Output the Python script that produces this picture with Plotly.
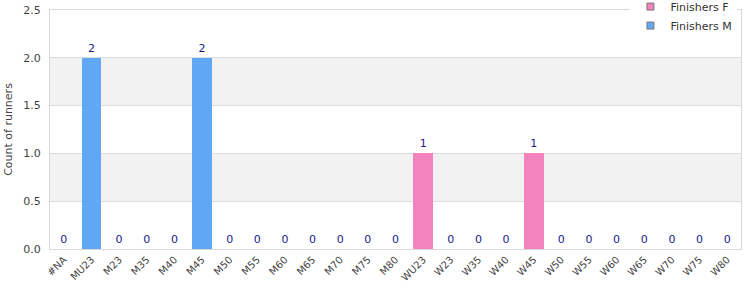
import plotly.graph_objects as go

categories = ["#NA", "MU23", "M23", "M35", "M40", "M45", "M50", "M55", "M60", "M65",
              "M70", "M75", "M80", "WU23", "W23", "W35", "W40", "W45", "W50", "W55",
              "W60", "W65", "W70", "W75", "W80"]
finishers_f = [0, 0, 0, 0, 0, 0, 0, 0, 0, 0, 0, 0, 0, 1, 0, 0, 0, 1, 0, 0, 0, 0, 0, 0, 0]
finishers_m = [0, 2, 0, 0, 0, 2, 0, 0, 0, 0, 0, 0, 0, 0, 0, 0, 0, 0, 0, 0, 0, 0, 0, 0, 0]
y_ticks = [0.0, 0.5, 1.0, 1.5, 2.0, 2.5]
series_names = ["Finishers F", "Finishers M"]
series_colors = ["#f283bd", "#60a8f5"]

totals = [f + m for f, m in zip(finishers_f, finishers_m)]

fig = go.Figure()
for name, vals, col in zip(series_names, [finishers_f, finishers_m], series_colors):
    fig.add_trace(go.Bar(x=categories, y=vals, name=name, showlegend=False,
                         marker=dict(color=col, line=dict(width=0))))
fig.add_trace(go.Scatter(x=categories, y=totals, mode="markers+text", text=[str(t) for t in totals],
                         textposition="top center", showlegend=False, hoverinfo="skip",
                         marker=dict(size=4, opacity=0),
                         textfont=dict(color="#1a1a8c", size=11, family="DejaVu Sans")))
# legend entries (small squares with grey border)
for name, col in zip(series_names, series_colors):
    fig.add_trace(go.Scatter(x=[None], y=[None], mode="markers", name=name,
                             marker=dict(symbol="square", size=7, color=col,
                                         line=dict(color="#777", width=1))))

# alternating background bands
for i in range(len(y_ticks) - 1):
    if i % 2 == 1:
        fig.add_shape(type="rect", xref="paper", yref="y", x0=0, x1=1,
                      y0=y_ticks[i], y1=y_ticks[i + 1], fillcolor="#f2f2f2",
                      line=dict(width=0), layer="below")

fig.update_layout(
    width=750, height=300,
    margin=dict(l=50, r=9, t=10, b=51, autoexpand=False),
    barmode="stack",
    bargap=0.28,
    plot_bgcolor="white", paper_bgcolor="white",
    font=dict(family="DejaVu Sans", size=11, color="#444"),
    showlegend=True,
    legend=dict(x=0.84, y=1.075, xanchor="left", yanchor="top", traceorder="normal",
                bgcolor="white", font=dict(size=11, color="#333"),
                itemwidth=30, tracegroupgap=0, borderwidth=0),
)
fig.update_xaxes(type="category", range=[-0.5, len(categories) - 0.5],
                 tickangle=-45, tickfont=dict(size=10, color="#444"),
                 showline=True, linecolor="#d8d8d8", linewidth=1, mirror=True,
                 showgrid=False, ticks="")
fig.update_yaxes(range=[0, 2.5], tickvals=y_ticks, ticktext=[f"{v:.1f}" for v in y_ticks],
                 tickfont=dict(size=11, color="#444"),
                 ticks="outside", ticklen=6, tickcolor="rgba(0,0,0,0)",
                 title=dict(text="Count of runners", font=dict(size=11, color="#444"), standoff=8),
                 showline=True, linecolor="#d8d8d8", linewidth=1, mirror=True,
                 showgrid=True, gridcolor="#dddddd", zeroline=False)

fig.write_html("out.html")
